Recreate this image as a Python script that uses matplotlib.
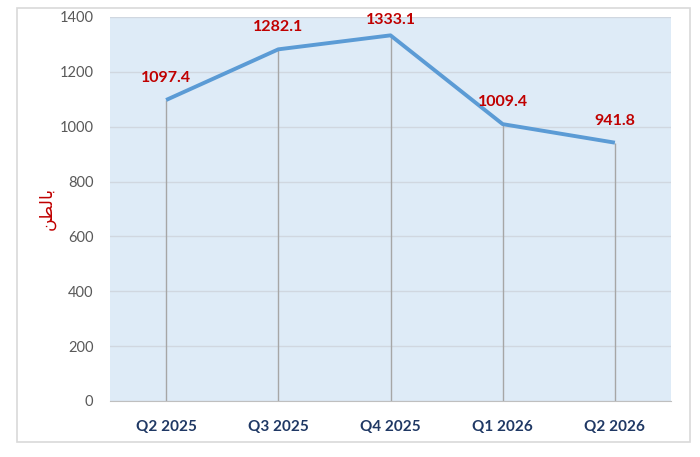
import matplotlib.pyplot as plt
from matplotlib.patches import Rectangle

quarters = ["Q2 2025", "Q3 2025", "Q4 2025", "Q1 2026", "Q2 2026"]
tons = [1097.4, 1282.1, 1333.1, 1009.4, 941.8]
y_ticks = [0, 200, 400, 600, 800, 1000, 1200, 1400]
# "بالطن" in contextual presentation forms, visual order
y_label = "\ufee6\ufec4\ufedf\ufe8e\ufe91"


def plot_tons_by_quarter():
    fig = plt.figure(figsize=(7, 4.57), dpi=100)
    fig.patches.append(Rectangle((17 / 700, 15 / 457), 673 / 700, 434 / 457,
                                 transform=fig.transFigure, fill=False,
                                 edgecolor="#d9d9d9", linewidth=1.2))
    ax = fig.add_axes([110 / 700, 56 / 457, 561 / 700, 384 / 457])
    ax.set_facecolor("#deebf7")

    x = list(range(len(quarters)))
    ax.vlines(x, 0, tons, color="#a6a6a6", linewidth=1, zorder=2)
    ax.plot(x, tons, color="#5b9bd5", linewidth=2.8, zorder=3,
            solid_capstyle="butt")
    # labels sit above the points, pushed down if they would leave the top
    for xi, v in zip(x, tons):
        ax.text(xi, min(v + 80, 1389), f"{v:.1f}", ha="center", va="center",
                color="#c00000", fontsize=11.5, fontweight="bold", family="Lato",
                clip_on=False)

    ax.set_xlim(-0.5, len(quarters) - 0.5)
    ax.set_ylim(0, 1400)
    ax.set_yticks(y_ticks)
    ax.yaxis.grid(True, color="#d0d7e0", linewidth=1)
    ax.set_axisbelow(True)
    ax.set_xticks(x)
    ax.set_xticklabels(quarters, fontsize=11, fontweight="bold",
                       color="#1f3864", family="Lato")
    ax.tick_params(axis="x", length=0, pad=14)
    ax.tick_params(axis="y", length=0, pad=12, labelsize=10.5, labelcolor="#595959")
    for lbl in ax.get_yticklabels():
        lbl.set_family("Lato")
    for s in ["left", "right", "top"]:
        ax.spines[s].set_visible(False)
    ax.spines["bottom"].set_color("#bfbfbf")

    fig.text(47 / 700, 1 - 208 / 457, y_label, rotation=90, color="#c00000",
             fontsize=12.5, ha="center", va="center", family="DejaVu Sans")

    fig.savefig("out.png", dpi=100)


if __name__ == "__main__":
    plot_tons_by_quarter()
